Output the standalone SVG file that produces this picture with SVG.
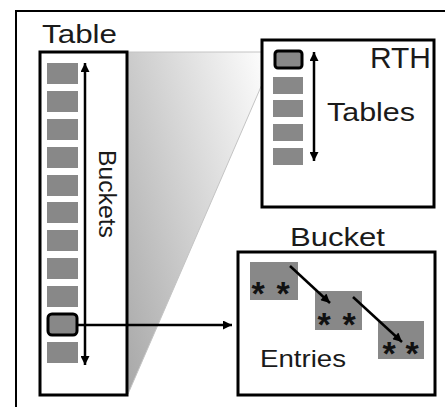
<svg xmlns="http://www.w3.org/2000/svg" width="445" height="407" viewBox="0 0 445 407">
  <defs>
    <linearGradient id="wedgeGrad" gradientUnits="userSpaceOnUse" x1="128" y1="394" x2="348" y2="332">
      <stop offset="0" stop-color="#a8a8a8"/>
      <stop offset="1" stop-color="#ffffff"/>
    </linearGradient>
    <marker id="ah" viewBox="0 0 10 10" refX="10" refY="5" markerWidth="12" markerHeight="9" markerUnits="userSpaceOnUse" orient="auto-start-reverse">
      <path d="M0,0 L10,5 L0,10 z" fill="#000"/>
    </marker>
  </defs>
  <style>
    .box { fill: #fff; stroke: #000; stroke-width: 3; }
    .cell { fill: #888; }
    .hl { fill: #888; stroke: #000; stroke-width: 3; }
    .lbl { font-family: "Liberation Sans", Arial, sans-serif; fill: #1a1a1a; }
    .star { font-family: "Liberation Sans", Arial, sans-serif; font-weight: bold; font-size: 34px; fill: #111; text-anchor: middle; }
    .arr { stroke: #000; stroke-width: 2.5; fill: none; }
  </style>
  <rect width="445" height="407" fill="#fff"/>
  <g id="frame">
    <rect x="16" y="11" width="460" height="420" fill="none" stroke="#000" stroke-width="2"/>
  </g>
  <g id="zoom-wedge">
    <polygon points="127,52 276,52 128,394" fill="url(#wedgeGrad)" stroke="#c4c4c4" stroke-width="1"/>
  </g>
  <g id="table">
    <text class="lbl" x="42" y="43" font-size="25" textLength="75" lengthAdjust="spacingAndGlyphs">Table</text>
    <rect class="box" x="40" y="52" width="87" height="343"/>
    <rect class="cell" x="47" y="63" width="31" height="21"/>
    <rect class="cell" x="47" y="91" width="31" height="21"/>
    <rect class="cell" x="47" y="119" width="31" height="21"/>
    <rect class="cell" x="47" y="147" width="31" height="21"/>
    <rect class="cell" x="47" y="175" width="31" height="21"/>
    <rect class="cell" x="47" y="202" width="31" height="21"/>
    <rect class="cell" x="47" y="230" width="31" height="21"/>
    <rect class="cell" x="47" y="258" width="31" height="21"/>
    <rect class="cell" x="47" y="286" width="31" height="21"/>
    <rect class="hl" x="48" y="314" width="29" height="21" rx="4"/>
    <rect class="cell" x="47" y="342" width="31" height="21"/>
    <text class="lbl" transform="translate(99,150) rotate(90)" font-size="23" textLength="88" lengthAdjust="spacingAndGlyphs">Buckets</text>
  </g>
  <g id="rth">
    <rect class="box" x="262" y="40" width="172" height="167"/>
    <rect class="hl" x="275" y="51" width="27" height="17" rx="3"/>
    <rect class="cell" x="273" y="77" width="30" height="17"/>
    <rect class="cell" x="273" y="100" width="30" height="17"/>
    <rect class="cell" x="273" y="124" width="30" height="17"/>
    <rect class="cell" x="273" y="148" width="30" height="17"/>
    <text class="lbl" x="370" y="68" font-size="29" textLength="61" lengthAdjust="spacingAndGlyphs">RTH</text>
    <text class="lbl" x="327" y="121" font-size="26" textLength="88" lengthAdjust="spacingAndGlyphs">Tables</text>
  </g>
  <g id="bucket">
    <text class="lbl" x="290" y="246" font-size="26" textLength="95" lengthAdjust="spacingAndGlyphs">Bucket</text>
    <rect class="box" x="238" y="252" width="197" height="143"/>
    <rect class="cell" x="250" y="262" width="48" height="38"/>
    <rect class="cell" x="315" y="291" width="47" height="39"/>
    <rect class="cell" x="378" y="321" width="46" height="38"/>
    <text class="star" x="258 283" y="305">**</text>
    <text class="star" x="324 349" y="336">**</text>
    <text class="star" x="389 412" y="365">**</text>
    <text class="lbl" x="260" y="367" font-size="24" textLength="86" lengthAdjust="spacingAndGlyphs">Entries</text>
  </g>
  <g id="connectors">
    <line class="arr" x1="85" y1="63" x2="85" y2="365" marker-start="url(#ah)" marker-end="url(#ah)"/>
    <line class="arr" x1="314" y1="52" x2="314" y2="161" marker-start="url(#ah)" marker-end="url(#ah)"/>
    <line class="arr" x1="78" y1="325" x2="232" y2="325" marker-end="url(#ah)"/>
    <line class="arr" x1="290" y1="266" x2="330" y2="303" marker-end="url(#ah)"/>
    <line class="arr" x1="353" y1="297" x2="402" y2="342" marker-end="url(#ah)"/>
  </g>
</svg>
